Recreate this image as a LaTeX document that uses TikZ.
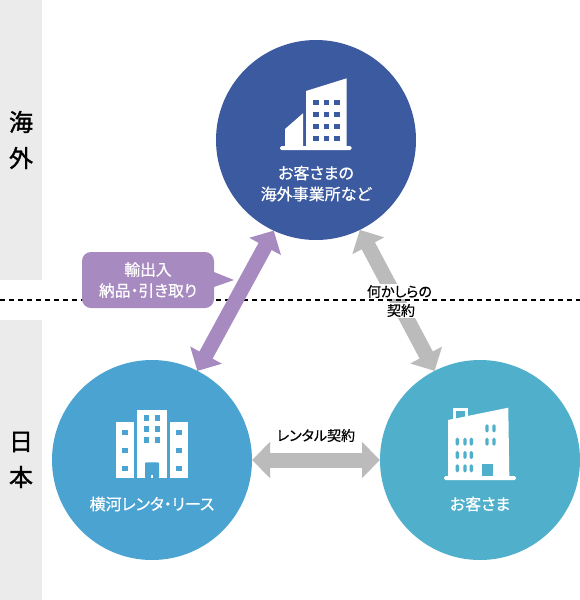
\documentclass[tikz,border=0pt]{standalone}
\usepackage{fontspec}
\setmainfont[RawFeature={+palt}, FakeBold=0.6]{Noto Sans CJK JP}
\newfontfamily\regionfont[FakeBold=1.4]{Noto Sans CJK JP}
\usetikzlibrary{arrows.meta}
\definecolor{overseablue}{HTML}{3C5AA0}
\definecolor{yokogawablue}{HTML}{4BA3D2}
\definecolor{clientteal}{HTML}{50AFCA}
\definecolor{tradepurple}{HTML}{A78BC0}
\definecolor{contractgray}{HTML}{BBBBBB}
\definecolor{sidegray}{HTML}{EBEBEB}
\begin{document}
\begin{tikzpicture}[x=1pt, y=-1pt,
  party/.style={circle, inner sep=0pt, outer sep=0pt, minimum size=200pt},
  partytext/.style={text=white, align=center, font=\fontsize{16}{21}\selectfont},
  regiontext/.style={font=\regionfont\fontsize{24}{24}\selectfont},
  contract/.style={{Triangle[width=35pt,length=18pt]}-{Triangle[width=35pt,length=18pt]}, line width=15pt, draw=contractgray},
  contracttext/.style={font=\fontsize{14}{15}\selectfont, fill=white, inner sep=1pt},
  bubble/.style={fill=tradepurple, rounded corners=9pt, minimum width=132pt, minimum height=56pt, inner sep=0pt, outer sep=0pt, text=white, align=center, font=\fontsize{15.8}{21}\selectfont},
  bldg/.style={fill=white},
]
\useasboundingbox (0,0) rectangle (580,600);
\fill[sidegray] (0,0) rectangle (42,280);
\fill[sidegray] (0,320) rectangle (42,600);
\node[regiontext] (kai) at (21,122) {海};
\node[regiontext] (gai) at (21,158) {外};
\node[regiontext] (nichi) at (21,442) {日};
\node[regiontext] (hon) at (21,477) {本};
\node[party, fill=overseablue] (top) at (316,140) {};
\node[party, fill=yokogawablue] (left) at (152,460) {};
\node[party, fill=clientteal] (right) at (480,460) {};
\draw[contract] (top.296) -- (right.117);
\draw[black, line width=2pt, dash pattern=on 5pt off 4pt] (0,300) -- (580,300);
\draw[contract] (left.east) -- (right.west);
\draw[contract, draw=tradepurple] (top.245) -- (left.63);
\node[bubble] (trade) at (148,280) {輸出入\\納品・引き取り};
\coordinate (tradetip) at (234,280);
\fill[tradepurple] ([yshift=8pt]trade.east) -- (tradetip) -- ([yshift=-7pt]trade.east) -- cycle;
\node[contracttext] (some) at (399.5,291.5) {何かしらの};
\node[contracttext] (somekeiyaku) at (401,310.5) {契約};
\node[font=\fontsize{14}{15}\selectfont] (rental) at (316,435.5) {レンタル契約};
\node[partytext] (toplabel) at (316,183.5) {お客さまの\\海外事業所など};
\node[partytext] (leftlabel) at (152,504) {横河レンタ・リース};
\node[partytext] (rightlabel) at (480,504) {お客さま};
% overseas building
\fill[bldg] (306,91) -- (346.7,78.3) -- (346.7,146) -- (306,146) -- cycle;
\fill[bldg] (285,129) -- (303,113.3) -- (303,146) -- (285,146) -- cycle;
\fill[bldg, rounded corners=1.5pt] (280,146) rectangle (351.7,150);
\foreach \x in {313.3,323.8,334.4}
  \foreach \y in {100,112,124,136}
    \fill[overseablue] (\x,\y) rectangle +(5.4,5);
% yokogawa building
\fill[bldg] (137.3,410) rectangle (166.7,478.3);
\fill[bldg] (116,422.3) rectangle (134,478.3);
\fill[bldg] (170,422.3) rectangle (188,478.3);
\foreach \x in {144,155}
  \foreach \y in {415.3,426.3,437.3}
    \fill[yokogawablue] (\x,\y) rectangle +(5.2,5.3);
\foreach \x in {122.3,176.3}
  \foreach \y in {430,448,466}
    \fill[yokogawablue] (\x,\y) rectangle +(5.3,5);
\fill[yokogawablue, rounded corners=1pt] (145,478.3) -- (145,462.3) -- (159,462.3) -- (159,478.3) -- cycle;
\fill[bldg] (150.6,475) rectangle +(2.2,3.3);
% client building
\fill[bldg] (448,420) -- (508.3,407.7) -- (509.3,476) -- (448,476) -- cycle;
\draw[white, line width=3pt] (454.8,420) -- (454.8,409.5) -- (466.5,409.5) -- (466.5,418);
\fill[bldg, rounded corners=1.5pt] (444,476) rectangle (516,480);
\foreach \x in {457.3,465,471.3}
  \foreach \y in {437.7,451,464.3}
    \fill[clientteal, rounded corners=1.5pt] (\x-1.7,\y) rectangle +(3.4,8);
\foreach \x in {487,494}
  \foreach \y in {424.3,437.7}
    \fill[clientteal, rounded corners=1.5pt] (\x-1.7,\y) rectangle +(3.4,8);
\fill[clientteal] (481.7,464) rectangle (493,476);
\end{tikzpicture}
\end{document}
